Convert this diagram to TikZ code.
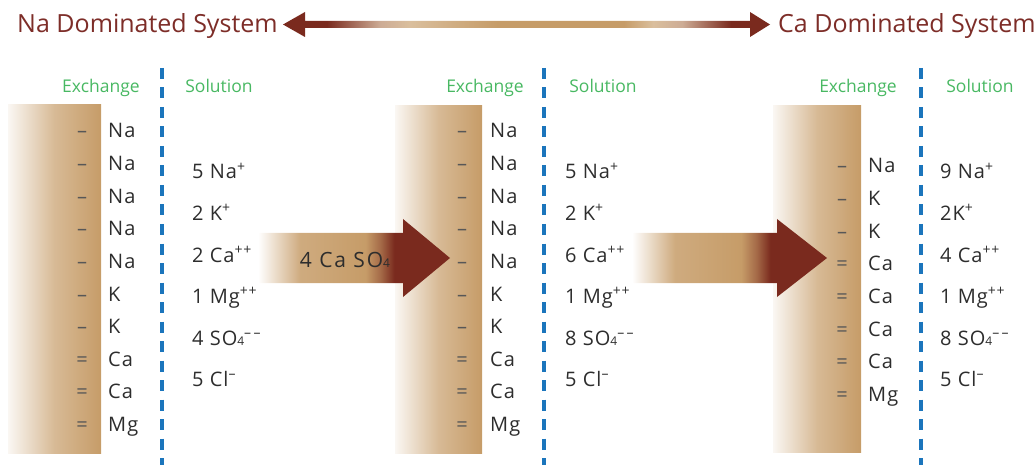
\documentclass[tikz,border=0pt]{standalone}
\usepackage{fontspec}
\setmainfont{Open Sans}
\newfontfamily\ionfont[LetterSpace=5]{Open Sans}
\newfontfamily\saltfont[LetterSpace=9]{Open Sans}
\usetikzlibrary{positioning}
\usepackage{xcolor}
\definecolor{SoilTan}{RGB}{198,156,104}
\definecolor{SoilRed}{RGB}{122,42,30}
\definecolor{TitleRed}{RGB}{125,45,40}
\definecolor{HeadGreen}{RGB}{72,184,98}
\definecolor{LineBlue}{RGB}{27,117,188}
\definecolor{IonGray}{RGB}{45,45,45}
\pgfdeclarehorizontalshading{soilshade}{100bp}{color(0bp)=(SoilTan!8!white); color(25bp)=(SoilTan!8!white); color(50bp)=(SoilTan!70!white); color(75bp)=(SoilTan); color(100bp)=(SoilTan)}
\pgfdeclarehorizontalshading{pushshade}{100bp}{color(0bp)=(white); color(25bp)=(white); color(36bp)=(SoilTan!85!white); color(53bp)=(SoilTan); color(57bp)=(SoilRed!45!SoilTan); color(60.5bp)=(SoilRed); color(100bp)=(SoilRed)}
\pgfdeclarehorizontalshading{rangeshade}{100bp}{color(0bp)=(SoilRed); color(29.5bp)=(SoilRed); color(35bp)=(SoilRed!35!SoilTan!60!white); color(38bp)=(SoilTan!65!white); color(47bp)=(SoilTan); color(60bp)=(SoilTan); color(63bp)=(SoilTan!65!white); color(66bp)=(SoilRed!35!SoilTan!60!white); color(71bp)=(SoilRed); color(100bp)=(SoilRed)}
\newcommand{\subfour}{{\fontsize{12}{12}\selectfont 4}}
\newcommand{\twominus}{\textsuperscript{–\,–}}
\newcommand{\oneminus}{\textsuperscript{–}}

\begin{document}
\begin{tikzpicture}[x=1pt,y=-1pt,ion/.style={anchor=base west,inner sep=0pt,text=IonGray,font=\ionfont\fontsize{20}{24}\selectfont},sign/.style={anchor=base,inner sep=0pt,text=IonGray!80,font=\fontsize{20}{24}\selectfont},head/.style={anchor=base,inner sep=0pt,text=HeadGreen,font=\fontsize{17.5}{20}\selectfont},title/.style={anchor=base west,inner sep=0pt,text=TitleRed,font=\fontsize{25}{30}\selectfont},divider/.style={draw=LineBlue,line width=3.2pt,dash pattern=on 11pt off 8.5pt}]
\useasboundingbox (0,0) rectangle (1036,465);
% range of systems
\node[title](nasys) at (17,33){Na Dominated System};
\node[title](casys) at (778,33){Ca Dominated System};
\shade[shading=rangeshade](283,24.5)--(305,12)--(305,21)--(750,21)--(750,12)--(770,24.5)--(750,37)--(750,28)--(305,28)--(305,37)--cycle;
% exchange bars
\shade[shading=soilshade](8,105) rectangle (101,453);
\shade[shading=soilshade](395,106) rectangle (482,453);
\shade[shading=soilshade](773,106) rectangle (861,452);
% dividers and headings
\foreach \x/\ex/\so [count=\p] in {162/101/219,544/485/603,921/858/980}{
  \draw[divider](\x,68)--(\x,465);
  \node[head](exh\p) at (\ex,93){Exchange};
  \node[head](soh\p) at (\so,93){Solution};
}
% exchange sites
\foreach \s/\e [count=\i] in {–/Na,–/Na,–/Na,–/Na,–/Na,–/K,–/K,=/Ca,=/Ca,=/Mg}{
  \node[sign](sa\i) at (82,105.4+32.6*\i){\s};
  \node[ion](ea\i) at (108,105.4+32.6*\i){\e};
  \node[sign](sb\i) at (462,105.4+32.6*\i){\s};
  \node[ion](eb\i) at (490,105.4+32.6*\i){\e};
}
\foreach \s/\e [count=\i] in {–/Na,–/K,–/K,=/Ca,=/Ca,=/Ca,=/Ca,=/Mg}{
  \node[sign](sc\i) at (842,140.4+32.6*\i){\s};
  \node[ion](ec\i) at (868,140.4+32.6*\i){\e};
}
% solutions
\foreach \t [count=\i] in {5 Na\textsuperscript{+},2 K\textsuperscript{+},2 Ca\textsuperscript{++},1 Mg\textsuperscript{++},4 SO\subfour\twominus,5 Cl\oneminus}{\node[ion](la\i) at (192,137.5+41.5*\i){\t};}
\foreach \t [count=\i] in {5 Na\textsuperscript{+},2 K\textsuperscript{+},6 Ca\textsuperscript{++},1 Mg\textsuperscript{++},8 SO\subfour\twominus,5 Cl\oneminus}{\node[ion](lb\i) at (565,137.5+41.5*\i){\t};}
\foreach \t [count=\i] in {9 Na\textsuperscript{+},2K\textsuperscript{+},4 Ca\textsuperscript{++},1 Mg\textsuperscript{++},8 SO\subfour\twominus,5 Cl\oneminus}{\node[ion](lc\i) at (940,137.5+41.5*\i){\t};}
% additions
\shade[shading=pushshade](258,233)--(403,233)--(403,219)--(450,258)--(403,297)--(403,283)--(258,283)--cycle;
\node[ion,anchor=base,font=\saltfont\fontsize{21}{24}\selectfont](gyp) at (345,267){4 Ca SO\subfour};
\shade[shading=pushshade](632,233)--(777,233)--(777,219)--(827,258)--(777,297)--(777,283)--(632,283)--cycle;
\end{tikzpicture}
\end{document}
